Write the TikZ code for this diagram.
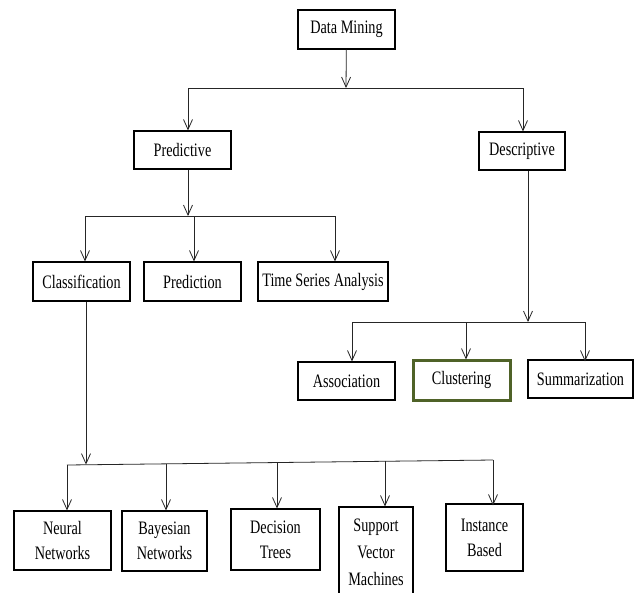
\documentclass[tikz,border=0pt]{standalone}
\usepackage{fontspec}
\setmainfont{Liberation Serif}[FakeStretch=0.75]
\usetikzlibrary{arrows.meta}
\definecolor{clugreen}{HTML}{4F6228}
\begin{document}
\begin{tikzpicture}[x=1pt,y=-1pt,
  box/.style={draw=black, line width=1.1pt, inner sep=0pt, align=center,
    font=\fontsize{19}{25}\selectfont},
  conn/.style={line width=0.8pt, draw=black!85},
  arr/.style={conn, -{Straight Barb[length=10pt,width=9pt,line width=0.8pt]}}]
\useasboundingbox (0,0) rectangle (637,592);
\clip (0,0) rectangle (637,592);
\fill[white] (0,0) rectangle (637,592);

% nodes
\node[box, minimum width=97pt, minimum height=39pt] (dm) at (346.5,29.5) {Data Mining};
\node[box, minimum width=97pt, minimum height=38pt] (pred) at (182.5,150) {Predictive};
\node[box, minimum width=86pt, minimum height=38pt] (desc) at (522,151) {Descriptive};
\node[box, minimum width=97pt, minimum height=39pt] (cls) at (81.5,281.5) {Classification};
\node[box, minimum width=97pt, minimum height=39pt] (prd) at (192.5,281.5) {Prediction};
\node[box, minimum width=130pt, minimum height=39pt] (tsa) at (323,281.5) {Time Series Analysis};
\node[box, minimum width=97pt, minimum height=38pt] (asc) at (346.5,381) {Association};
\node[box, draw=clugreen, line width=3pt, minimum width=97pt, minimum height=40pt] (clu) at (461.5,380) {Clustering};
\node[box, minimum width=105pt, minimum height=38pt] (sum) at (580.5,379) {Summarization};
\node[box, minimum width=97pt, minimum height=59pt] (nn) at (62.5,540.5) {Neural\\Networks};
\node[box, minimum width=85pt, minimum height=60pt] (bn) at (164.5,541) {Bayesian\\Networks};
\node[box, minimum width=89pt, minimum height=61pt] (dt) at (275.5,539.5) {Decision\\Trees};
\node[box, minimum width=74pt, minimum height=90pt, font=\fontsize{19}{27}\selectfont] (svm) at (376,552) {Support\\Vector\\Machines};
\node[box, minimum width=77pt, minimum height=67pt] (inst) at (484.5,537.5) {Instance\\Based};

% junction coordinates
\coordinate (j1) at (346,88);
\coordinate (l1) at (188,88);
\coordinate (r1) at (523,88);
\coordinate (j2) at (188,216);
\coordinate (l2) at (85,216);
\coordinate (m2) at (194,216);
\coordinate (r2) at (335,216);
\coordinate (j3) at (86,464.6);
\coordinate (b1) at (67,465);
\coordinate (b2) at (166,463.8);
\coordinate (b3) at (277,462.5);
\coordinate (b4) at (385,461.3);
\coordinate (b5) at (493,460);
\coordinate (j4) at (528,322);
\coordinate (d1) at (352,322);
\coordinate (d2) at (466,322);
\coordinate (d3) at (585,322);

% level 1
\draw[arr] (dm) -- (j1);
\draw[conn] (l1) -- (r1);
\draw[arr] (l1) -- (l1 |- pred.north);
\draw[arr] (r1) -- (r1 |- desc.north);

% predictive branch
\draw[arr] (j2 |- pred.south) -- (j2);
\draw[conn] (l2) -- (r2);
\draw[arr] (l2) -- (l2 |- cls.north);
\draw[arr] (m2) -- (m2 |- prd.north);
\draw[arr] (r2) -- (r2 |- tsa.north);

% classification branch
\draw[arr] (j3 |- cls.south) -- (j3);
\draw[conn] (b1) -- (b5);
\draw[arr] (b1) -- (b1 |- nn.north);
\draw[arr] (b2) -- (b2 |- bn.north);
\draw[arr] (b3) -- (b3 |- dt.north);
\draw[arr] (b4) -- (b4 |- svm.north);
\draw[arr] (b5) -- ([yshift=-2pt]b5 |- inst.north);

% descriptive branch
\draw[arr] (j4 |- desc.south) -- (j4);
\draw[conn] (d1) -- (d3);
\draw[arr] (d1) -- (d1 |- asc.north);
\draw[arr] (d2) -- ([yshift=-1pt]d2 |- clu.north);
\draw[arr] (d3) -- ([yshift=-2pt]d3 |- sum.north);
\end{tikzpicture}
\end{document}
